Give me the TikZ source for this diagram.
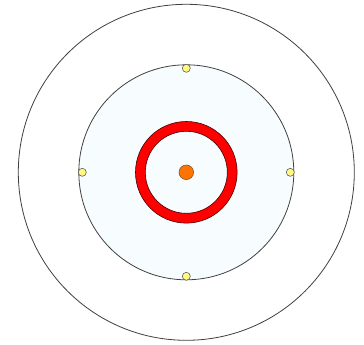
\documentclass[tikz,border=0pt]{standalone}
\usetikzlibrary{calc}
\begin{document}
\begin{tikzpicture}[x=1pt,y=-1pt,
  orbit/.style={draw=black!75,line width=0.8pt},
  electron/.style={draw=black!70!yellow,fill=yellow!45,line width=0.6pt},
  nucleus/.style={draw=brown!70!black,fill=orange!90!red,line width=0.6pt}]
\useasboundingbox[fill=white] (0,0) rectangle (364,345);
\coordinate (c) at (186.3,172.3);
\draw[orbit] (c) circle[radius=168];
\draw[orbit,fill=cyan!3] (c) circle[radius=107.5];
\draw[draw=black!70!red,line width=0.6pt,fill=red,even odd rule] (c) circle[radius=50.8] (c) circle[radius=41];
\draw[nucleus] (c) circle[radius=7.3];
\foreach \a in {0,90,180,270}
  \draw[electron] ($(c)+(\a:104)$) circle[radius=4];
\end{tikzpicture}
\end{document}
